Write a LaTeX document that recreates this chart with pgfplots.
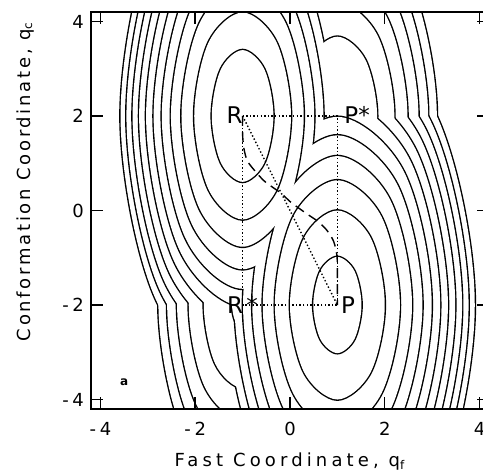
\documentclass[border=0pt]{standalone}
\usepackage{fontspec}
\setmainfont{DejaVu Sans}[LetterSpace=20]
\newfontfamily\lblfont{DejaVu Sans}
\newfontfamily\xlfont{DejaVu Sans}[LetterSpace=23]
\newfontfamily\ylfont{DejaVu Sans}[LetterSpace=15]
\usepackage{pgfplots}
\usepackage{pgfplotstable}
\pgfplotsset{compat=1.18}

% contour ellipses (8 points each, first three repeated so the smooth curve closes)
% R basin
\pgfplotstableread[row sep=\\]{x y\\ -0.540 1.014\\ -0.350 2\\ -0.540 2.986\\ -1 3.394\\ -1.460 2.986\\ -1.650 2\\ -1.460 1.014\\ -1 0.606\\ -0.540 1.014\\ -0.350 2\\ -0.540 2.986\\}\cRa
\pgfplotstableread[row sep=\\]{x y\\ -0.278 0.451\\ 0.021 2\\ -0.278 3.549\\ -1 4.190\\ -1.722 3.549\\ -2.021 2\\ -1.722 0.451\\ -1 -0.190\\ -0.278 0.451\\ 0.021 2\\ -0.278 3.549\\}\cRb
\pgfplotstableread[row sep=\\]{x y\\ -0.088 0.043\\ 0.290 2\\ -0.088 3.957\\ -1 4.767\\ -1.912 3.957\\ -2.290 2\\ -1.912 0.043\\ -1 -0.767\\ -0.088 0.043\\ 0.290 2\\ -0.088 3.957\\}\cRc
\pgfplotstableread[row sep=\\]{x y\\ 0.069 -0.293\\ 0.512 2\\ 0.069 4.293\\ -1 5.243\\ -2.069 4.293\\ -2.512 2\\ -2.069 -0.293\\ -1 -1.243\\ 0.069 -0.293\\ 0.512 2\\ 0.069 4.293\\}\cRd
\pgfplotstableread[row sep=\\]{x y\\ 0.206 -0.586\\ 0.705 2\\ 0.206 4.586\\ -1 5.657\\ -2.206 4.586\\ -2.705 2\\ -2.206 -0.586\\ -1 -1.657\\ 0.206 -0.586\\ 0.705 2\\ 0.206 4.586\\}\cRe
\pgfplotstableread[row sep=\\]{x y\\ 0.328 -0.848\\ 0.878 2\\ 0.328 4.848\\ -1 6.028\\ -2.328 4.848\\ -2.878 2\\ -2.328 -0.848\\ -1 -2.028\\ 0.328 -0.848\\ 0.878 2\\ 0.328 4.848\\}\cRf
\pgfplotstableread[row sep=\\]{x y\\ 0.440 -1.089\\ 1.037 2\\ 0.440 5.089\\ -1 6.369\\ -2.440 5.089\\ -3.037 2\\ -2.440 -1.089\\ -1 -2.369\\ 0.440 -1.089\\ 1.037 2\\ 0.440 5.089\\}\cRg
\pgfplotstableread[row sep=\\]{x y\\ 0.544 -1.313\\ 1.184 2\\ 0.544 5.313\\ -1 6.685\\ -2.544 5.313\\ -3.184 2\\ -2.544 -1.313\\ -1 -2.685\\ 0.544 -1.313\\ 1.184 2\\ 0.544 5.313\\}\cRh
\pgfplotstableread[row sep=\\]{x y\\ 0.642 -1.522\\ 1.322 2\\ 0.642 5.522\\ -1 6.981\\ -2.642 5.522\\ -3.322 2\\ -2.642 -1.522\\ -1 -2.981\\ 0.642 -1.522\\ 1.322 2\\ 0.642 5.522\\}\cRi
\pgfplotstableread[row sep=\\]{x y\\ 0.734 -1.719\\ 1.452 2\\ 0.734 5.719\\ -1 7.260\\ -2.734 5.719\\ -3.452 2\\ -2.734 -1.719\\ -1 -3.260\\ 0.734 -1.719\\ 1.452 2\\ 0.734 5.719\\}\cRj
\pgfplotstableread[row sep=\\]{x y\\ 0.821 -1.907\\ 1.576 2\\ 0.821 5.907\\ -1 7.526\\ -2.821 5.907\\ -3.576 2\\ -2.821 -1.907\\ -1 -3.526\\ 0.821 -1.907\\ 1.576 2\\ 0.821 5.907\\}\cRk
% P basin
\pgfplotstableread[row sep=\\]{x y\\ 1.360 -2.720\\ 1.509 -2\\ 1.360 -1.280\\ 1 -0.982\\ 0.640 -1.280\\ 0.491 -2\\ 0.640 -2.720\\ 1 -3.018\\ 1.360 -2.720\\ 1.509 -2\\ 1.360 -1.280\\}\cPm
\pgfplotstableread[row sep=\\]{x y\\ 1.707 -3.414\\ 2 -2\\ 1.707 -0.586\\ 1 0\\ 0.293 -0.586\\ 0 -2\\ 0.293 -3.414\\ 1 -4\\ 1.707 -3.414\\ 2 -2\\ 1.707 -0.586\\}\cPa
\pgfplotstableread[row sep=\\]{x y\\ 1.933 -3.866\\ 2.319 -2\\ 1.933 -0.134\\ 1 0.639\\ 0.067 -0.134\\ -0.319 -2\\ 0.067 -3.866\\ 1 -4.639\\ 1.933 -3.866\\ 2.319 -2\\ 1.933 -0.134\\}\cPb
\pgfplotstableread[row sep=\\]{x y\\ 2.114 -4.228\\ 2.575 -2\\ 2.114 0.228\\ 1 1.151\\ -0.114 0.228\\ -0.575 -2\\ -0.114 -4.228\\ 1 -5.151\\ 2.114 -4.228\\ 2.575 -2\\ 2.114 0.228\\}\cPc
\pgfplotstableread[row sep=\\]{x y\\ 2.269 -4.539\\ 2.795 -2\\ 2.269 0.539\\ 1 1.590\\ -0.269 0.539\\ -0.795 -2\\ -0.269 -4.539\\ 1 -5.590\\ 2.269 -4.539\\ 2.795 -2\\ 2.269 0.539\\}\cPd
\pgfplotstableread[row sep=\\]{x y\\ 2.408 -4.815\\ 2.991 -2\\ 2.408 0.815\\ 1 1.982\\ -0.408 0.815\\ -0.991 -2\\ -0.408 -4.815\\ 1 -5.982\\ 2.408 -4.815\\ 2.991 -2\\ 2.408 0.815\\}\cPe
\pgfplotstableread[row sep=\\]{x y\\ 2.534 -5.067\\ 3.169 -2\\ 2.534 1.067\\ 1 2.338\\ -0.534 1.067\\ -1.169 -2\\ -0.534 -5.067\\ 1 -6.338\\ 2.534 -5.067\\ 3.169 -2\\ 2.534 1.067\\}\cPf
\pgfplotstableread[row sep=\\]{x y\\ 2.650 -5.300\\ 3.333 -2\\ 2.650 1.300\\ 1 2.667\\ -0.650 1.300\\ -1.333 -2\\ -0.650 -5.300\\ 1 -6.667\\ 2.650 -5.300\\ 3.333 -2\\ 2.650 1.300\\}\cPg
\pgfplotstableread[row sep=\\]{x y\\ 2.759 -5.517\\ 3.487 -2\\ 2.759 1.517\\ 1 2.974\\ -0.759 1.517\\ -1.487 -2\\ -0.759 -5.517\\ 1 -6.974\\ 2.759 -5.517\\ 3.487 -2\\ 2.759 1.517\\}\cPh
\pgfplotstableread[row sep=\\]{x y\\ 2.861 -5.722\\ 3.632 -2\\ 2.861 1.722\\ 1 3.264\\ -0.861 1.722\\ -1.632 -2\\ -0.861 -5.722\\ 1 -7.264\\ 2.861 -5.722\\ 3.632 -2\\ 2.861 1.722\\}\cPi
\pgfplotstableread[row sep=\\]{x y\\ 2.958 -5.916\\ 3.769 -2\\ 2.958 1.916\\ 1 3.538\\ -0.958 1.916\\ -1.769 -2\\ -0.958 -5.916\\ 1 -7.538\\ 2.958 -5.916\\ 3.769 -2\\ 2.958 1.916\\}\cPj
\pgfplotstableread[row sep=\\]{x y\\ 3.050 -6.101\\ 3.900 -2\\ 3.050 2.101\\ 1 3.799\\ -1.050 2.101\\ -1.900 -2\\ -1.050 -6.101\\ 1 -7.799\\ 3.050 -6.101\\ 3.900 -2\\ 3.050 2.101\\}\cPk
% R* basin
\pgfplotstableread[row sep=\\]{x y\\ -0.842 -2.338\\ -0.777 -2\\ -0.842 -1.662\\ -1 -1.522\\ -1.158 -1.662\\ -1.223 -2\\ -1.158 -2.338\\ -1 -2.478\\ -0.842 -2.338\\ -0.777 -2\\ -0.842 -1.662\\}\cSf
\pgfplotstableread[row sep=\\]{x y\\ -0.421 -3.242\\ -0.181 -2\\ -0.421 -0.758\\ -1 -0.243\\ -1.579 -0.758\\ -1.819 -2\\ -1.579 -3.242\\ -1 -3.757\\ -0.421 -3.242\\ -0.181 -2\\ -0.421 -0.758\\}\cSg
\pgfplotstableread[row sep=\\]{x y\\ -0.196 -3.724\\ 0.137 -2\\ -0.196 -0.276\\ -1 0.438\\ -1.804 -0.276\\ -2.137 -2\\ -1.804 -3.724\\ -1 -4.438\\ -0.196 -3.724\\ 0.137 -2\\ -0.196 -0.276\\}\cSh
\pgfplotstableread[row sep=\\]{x y\\ -0.022 -4.098\\ 0.383 -2\\ -0.022 0.098\\ -1 0.967\\ -1.978 0.098\\ -2.383 -2\\ -1.978 -4.098\\ -1 -4.967\\ -0.022 -4.098\\ 0.383 -2\\ -0.022 0.098\\}\cSi
\pgfplotstableread[row sep=\\]{x y\\ 0.126 -4.415\\ 0.592 -2\\ 0.126 0.415\\ -1 1.415\\ -2.126 0.415\\ -2.592 -2\\ -2.126 -4.415\\ -1 -5.415\\ 0.126 -4.415\\ 0.592 -2\\ 0.126 0.415\\}\cSj
\pgfplotstableread[row sep=\\]{x y\\ 0.256 -4.694\\ 0.776 -2\\ 0.256 0.694\\ -1 1.810\\ -2.256 0.694\\ -2.776 -2\\ -2.256 -4.694\\ -1 -5.810\\ 0.256 -4.694\\ 0.776 -2\\ 0.256 0.694\\}\cSk
% P* basin
\pgfplotstableread[row sep=\\]{x y\\ 1.593 0.814\\ 1.839 2\\ 1.593 3.186\\ 1 3.678\\ 0.407 3.186\\ 0.161 2\\ 0.407 0.814\\ 1 0.322\\ 1.593 0.814\\ 1.839 2\\ 1.593 3.186\\}\cTf
\pgfplotstableread[row sep=\\]{x y\\ 1.850 0.300\\ 2.202 2\\ 1.850 3.700\\ 1 4.404\\ 0.150 3.700\\ -0.202 2\\ 0.150 0.300\\ 1 -0.404\\ 1.850 0.300\\ 2.202 2\\ 1.850 3.700\\}\cTg
\pgfplotstableread[row sep=\\]{x y\\ 2.045 -0.091\\ 2.478 2\\ 2.045 4.091\\ 1 4.957\\ -0.045 4.091\\ -0.478 2\\ -0.045 -0.091\\ 1 -0.957\\ 2.045 -0.091\\ 2.478 2\\ 2.045 4.091\\}\cTh
\pgfplotstableread[row sep=\\]{x y\\ 2.210 -0.419\\ 2.711 2\\ 2.210 4.419\\ 1 5.421\\ -0.210 4.419\\ -0.711 2\\ -0.210 -0.419\\ 1 -1.421\\ 2.210 -0.419\\ 2.711 2\\ 2.210 4.419\\}\cTi
\pgfplotstableread[row sep=\\]{x y\\ 2.354 -0.708\\ 2.915 2\\ 2.354 4.708\\ 1 5.830\\ -0.354 4.708\\ -0.915 2\\ -0.354 -0.708\\ 1 -1.830\\ 2.354 -0.708\\ 2.915 2\\ 2.354 4.708\\}\cTj
\pgfplotstableread[row sep=\\]{x y\\ 2.485 -0.969\\ 3.099 2\\ 2.485 4.969\\ 1 6.199\\ -0.485 4.969\\ -1.099 2\\ -0.485 -0.969\\ 1 -2.199\\ 2.485 -0.969\\ 3.099 2\\ 2.485 4.969\\}\cTk

\pgfplotsset{
  lvl line/.style={draw=black, line width=1.4pt, smooth, tension=0.56},
  lvl fill/.style={draw=none, fill=white, smooth, tension=0.56},
}
% one contour level = outline of the union of its ellipses
\newcommand\lvfour[4]{%
  \addplot[lvl line] table {#1};
  \addplot[lvl line] table {#2};
  \addplot[lvl line] table {#3};
  \addplot[lvl line] table {#4};
  \addplot[lvl fill] table {#1};
  \addplot[lvl fill] table {#2};
  \addplot[lvl fill] table {#3};
  \addplot[lvl fill] table {#4};}
\newcommand\lvtwo[2]{%
  \addplot[lvl line] table {#1};
  \addplot[lvl line] table {#2};
  \addplot[lvl fill] table {#1};
  \addplot[lvl fill] table {#2};}

\begin{document}
\begin{tikzpicture}
\begin{axis}[
  at={(0,0)}, anchor=south west,
  scale only axis, width=199pt, height=198.5pt,
  xmin=-4.2, xmax=4.2, ymin=-4.2, ymax=4.2,
  xtick={-4,-2,0,2,4}, ytick={-4,-2,0,2,4},
  tick align=inside, major tick length=6pt,
  tick style={black, line width=0.75pt},
  axis line style={line width=0.75pt},
  axis on top,
  /pgf/number format/assume math mode=true,
  ticklabel style={font=\fontsize{9}{10}\selectfont},
  xticklabel style={yshift=-3pt},
  xlabel={Fast Coordinate, q\textsubscript{f}},
  ylabel={Conformation Coordinate, q\textsubscript{c}},
  xlabel style={font=\xlfont\fontsize{9}{10}\selectfont,
    at={(axis description cs:0.5,0)}, anchor=base, yshift=-29pt},
  ylabel style={font=\ylfont\fontsize{9}{10}\selectfont,
    at={(axis description cs:-0.153,0.573)}, anchor=base},
]
\lvfour{\cRk}{\cPk}{\cSk}{\cTk}
\lvfour{\cRj}{\cPj}{\cSj}{\cTj}
\lvfour{\cRi}{\cPi}{\cSi}{\cTi}
\lvfour{\cRh}{\cPh}{\cSh}{\cTh}
\lvfour{\cRg}{\cPg}{\cSg}{\cTg}
\lvfour{\cRf}{\cPf}{\cSf}{\cTf}
\lvtwo{\cRe}{\cPe}
\lvtwo{\cRd}{\cPd}
\lvtwo{\cRc}{\cPc}
\lvtwo{\cRb}{\cPb}
\lvtwo{\cRa}{\cPa}
\addplot[lvl line] table {\cPm};
\addplot[lvl fill] table {\cPm};

% paths
\addplot[black, line width=0.7pt, dash pattern=on 0.7pt off 1.1pt]
  coordinates {(-1,2) (1,2) (1,-2) (-1,-2) (-1,2)};
\addplot[black, line width=0.7pt, dash pattern=on 0.7pt off 1.1pt]
  coordinates {(-1,2) (1,-2)};
\addplot[black, line width=0.7pt, dash pattern=on 5pt off 3pt, smooth]
  coordinates {(-1,2) (-1,1.6) (-0.97,1.3) (-0.9,1.05) (-0.75,0.85) (-0.55,0.63)
    (-0.35,0.48) (-0.18,0.36) (0,0.19) (0.2,0.04) (0.4,-0.1) (0.6,-0.24)
    (0.78,-0.42) (0.92,-0.65) (0.99,-0.95) (1,-1.3) (1,-2)};

\node[anchor=east, inner sep=0pt, font=\lblfont\fontsize{11.5}{12}\selectfont] at (axis cs:-0.99,2.02) {R};
\node[anchor=west, inner sep=0pt, font=\lblfont\fontsize{11.5}{12}\selectfont] at (axis cs:1.14,2.02) {P*};
\node[anchor=east, inner sep=0pt, font=\lblfont\fontsize{11.5}{12}\selectfont] at (axis cs:-0.98,-2.0) {R};
\node[anchor=base west, inner sep=0pt, font=\lblfont\fontsize{11.5}{12}\selectfont] at (axis cs:-0.93,-2.17) {*};
\node[anchor=west, inner sep=0pt, font=\lblfont\fontsize{11.5}{12}\selectfont] at (axis cs:1.07,-2.0) {P};
\node[inner sep=0pt, font=\lblfont\bfseries\fontsize{6}{6}\selectfont] at (axis cs:-3.5,-3.63) {a};
\end{axis}
\pgfresetboundingbox
\path[use as bounding box] (-45.5pt,-33pt) rectangle (196pt,204.5pt);
\end{tikzpicture}
\end{document}
